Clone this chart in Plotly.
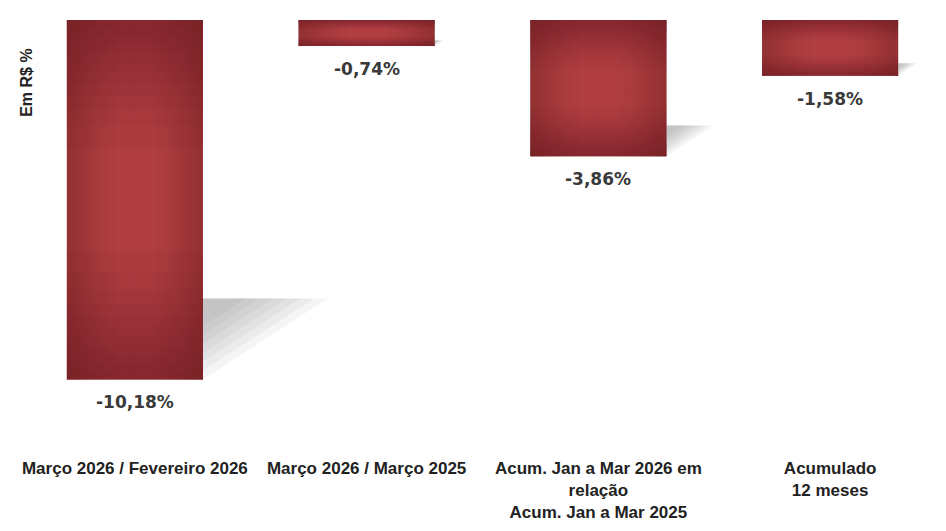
import plotly.graph_objects as go

categories = ["Março 2026 / Fevereiro 2026", "Março 2026 / Março 2025",
              "Acum. Jan a Mar 2026 em<br>relação<br>Acum. Jan a Mar 2025",
              "Acumulado<br>12 meses"]
values = [-10.18, -0.74, -3.86, -1.58]
y_title = "Em R$ %"

xs = list(range(len(categories)))
BAR_W = 0.587
CENTER_COL = "rgb(187,68,70)"
DARK_V = "rgba(110,32,34,0.073)"
DARK_H = "rgba(110,32,34,0.05)"
M = 12

fig = go.Figure()

# soft shadows derived from the bar values
for i, v in zip(xs, values):
    L = -v
    xr = i + BAR_W / 2
    h = 0.225 * L
    w = 0.053 * L
    for k in range(7):
        s = 1 - k * 0.11
        px = [xr, xr + w * s, xr, xr]
        py = [v + h, v + h, v + h * (1 - s), v + h]
        fig.add_trace(go.Scatter(x=px, y=py, fill="toself", mode="lines",
                                 line=dict(width=0), fillcolor="rgba(120,120,120,0.07)",
                                 hoverinfo="skip", showlegend=False))

def add_bar(**kw):
    fig.add_trace(go.Bar(hoverinfo="skip", showlegend=False, **kw))

# base bars
add_bar(x=xs, y=values, width=BAR_W, marker=dict(color=CENTER_COL, line=dict(width=0)))

# darkening strips toward the edges (gradient)
for k in range(1, M + 1):
    f = 1 - (1 - k / M) ** 0.5
    hl = [-v / 2 for v in values]
    add_bar(x=xs, y=[-f * h for h in hl], base=[0] * len(xs), width=BAR_W,
            marker=dict(color=DARK_V, line=dict(width=0)))
    add_bar(x=xs, y=[f * h for h in hl], base=values, width=BAR_W,
            marker=dict(color=DARK_V, line=dict(width=0)))
    sw = f * BAR_W / 2
    add_bar(x=xs, y=[-v for v in values], base=values, width=sw, offset=-BAR_W / 2,
            marker=dict(color=DARK_H, line=dict(width=0)))
    add_bar(x=xs, y=[-v for v in values], base=values, width=sw, offset=BAR_W / 2 - sw,
            marker=dict(color=DARK_H, line=dict(width=0)))

for i, v in zip(xs, values):
    fig.add_annotation(x=i, y=v, text="<b>%s%%</b>" % f"{v:.2f}".replace(".", ","),
                       showarrow=False, yanchor="top", yshift=-11,
                       font=dict(family="DejaVu Sans", size=17, color="#3a3a3a"))

fig.add_annotation(xref="paper", yref="y", x=0, y=-1.78, xshift=8, text="<b>%s</b>" % y_title,
                   textangle=-90, showarrow=False, xanchor="center", yanchor="middle",
                   font=dict(family="Liberation Sans", size=16, color="#222"))

fig.update_layout(
    width=938, height=523, barmode="overlay",
    margin=dict(l=11, r=0, t=12, b=75),
    paper_bgcolor="white", plot_bgcolor="white",
    xaxis=dict(range=[-0.5, 3.5], tickvals=xs, ticktext=["<b>%s</b>" % c for c in categories],
               showgrid=False, zeroline=False, showline=False, ticks="",
               tickfont=dict(family="Liberation Sans", size=17, color="#222")),
    yaxis=dict(range=[-12.35, 0], showgrid=False, zeroline=False, showline=False,
               showticklabels=False, ticks=""),
)

fig.write_html("out.html")
